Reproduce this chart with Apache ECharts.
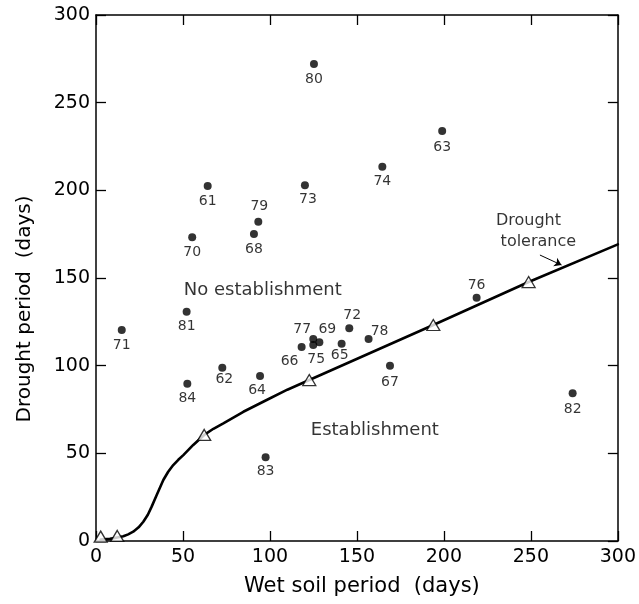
<!DOCTYPE html>
<html>
<head>
<meta charset="utf-8">
<script src="https://cdn.jsdelivr.net/npm/echarts@6/dist/echarts.min.js"></script>
<style>
  html, body { margin: 0; padding: 0; background: #fff; }
  #chart { width: 639px; height: 604px; }
</style>
</head>
<body>
<div id="chart"></div>
<script>
// Sites (year of observation) - wet soil period vs drought period, days
const siteYears = [80, 61, 73, 63, 74, 79, 68, 70, 81, 71, 84, 62, 64, 66, 77, 75, 69, 65, 72, 78, 76, 67, 82, 83];
const wetSoilDays = [125.3, 64.2, 120.1, 199, 164.6, 93.3, 90.8, 55.3, 52.1, 14.8, 52.5, 72.6, 94.3, 118.2, 124.9, 124.9, 128.4, 141.2, 145.6, 156.7, 218.8, 169, 274, 97.5];
const droughtDays = [272, 202.5, 202.9, 233.8, 213.5, 182.1, 175.1, 173.2, 130.8, 120.3, 89.7, 98.8, 94.1, 110.6, 115.2, 111.8, 113.3, 112.5, 121.3, 115.2, 138.8, 100, 84.2, 47.7];

// Drought tolerance curve
const curveX = [2.7, 8, 12.2, 15.7, 18.5, 21.4, 24.5, 27.2, 29.8, 32, 34.9, 38.7, 41.5, 44.4, 47.3, 50.2, 55.9, 62.2, 67.5, 73.2, 84.7, 98.1, 110, 122.6, 193.9, 248.7, 300];
const curveY = [0.8, 1.2, 2, 2.7, 3.8, 5.3, 7.8, 11, 15, 19.6, 26.2, 34.8, 39.5, 43.3, 46.3, 49, 54.8, 60.5, 64, 67.1, 73.7, 80.4, 86.3, 91.8, 123.2, 147.7, 169.2];

// Measured points on the curve (triangles)
const triX = [2.7, 12.2, 62.2, 122.6, 193.9, 248.7];
const triY = [2.5, 2.9, 60.5, 91.8, 123.2, 147.7];

// label placement around dots (px), default is below
const labelOffsets = {
    79: [1, -15], 77: [-11, -10], 69: [8, -13], 72: [3, -13], 76: [0, -12], 78: [11, -8],
    66: [-12, 14], 75: [3, 14], 65: [-2, 12], 62: [2, 12], 64: [-3, 14], 67: [0, 17],
    82: [0, 16], 83: [0, 14], 73: [3, 14], 63: [0, 16]
};

const FONT = 'DejaVu Sans';

let chart = echarts.init(document.getElementById('chart'));

let points = siteYears.map((yr, i) => ({
    value: [wetSoilDays[i], droughtDays[i], yr],
    label: { offset: labelOffsets[yr] || [0, 15] }
}));

let curve = curveX.map((x, i) => [x, curveY[i]]);
let triangles = triX.map((x, i) => [x, triY[i]]);

const tickStyle = { show: true, inside: true, length: 10, lineStyle: { color: '#000', width: 1.3 } };

function axisBase(pos) {
    return {
        type: 'value', min: 0, max: 300, interval: 50, position: pos,
        axisLine: { show: true, onZero: false, lineStyle: { color: '#000', width: 1.5 } },
        axisTick: tickStyle,
        splitLine: { show: false }
    };
}

let option = {
    backgroundColor: '#fff',
    animation: false,
    grid: { left: 96, right: 21, top: 15, bottom: 63 },
    xAxis: [
        Object.assign(axisBase('bottom'), {
            name: 'Wet soil period  (days)',
            nameLocation: 'middle', nameGap: 35,
            nameTextStyle: { fontFamily: FONT, fontSize: 21, color: '#000', padding: [0, 0, 0, 10] },
            axisLabel: { margin: 7, fontFamily: FONT, fontSize: 19, color: '#000' }
        }),
        Object.assign(axisBase('top'), { axisLabel: { show: false } })
    ],
    yAxis: [
        Object.assign(axisBase('left'), {
            name: 'Drought period  (days)',
            nameLocation: 'middle', nameGap: 61,
            nameTextStyle: { fontFamily: FONT, fontSize: 20, color: '#000', padding: [0, 62, 0, 0] },
            axisLabel: { margin: 6, fontFamily: FONT, fontSize: 19, color: '#000' }
        }),
        Object.assign(axisBase('right'), { axisLabel: { show: false } })
    ],
    series: [
        {
            name: 'Drought tolerance',
            type: 'line',
            data: curve,
            smooth: false,
            showSymbol: false,
            lineStyle: { color: '#000', width: 2.6, join: 'round', cap: 'round' },
            z: 2
        },
        {
            name: 'Tolerance measured',
            type: 'scatter',
            data: triangles,
            symbol: 'triangle',
            symbolSize: [13, 11],
            itemStyle: { color: '#fff', borderColor: '#000', borderWidth: 1.3 },
            z: 3
        },
        {
            name: 'Sites',
            type: 'scatter',
            data: points,
            symbolSize: 8,
            itemStyle: { color: '#000' },
            label: {
                show: true,
                position: 'inside',
                formatter: p => p.value[2],
                fontFamily: FONT, fontSize: 14, color: '#000'
            },
            z: 4
        },
        {
            name: 'Annotations',
            type: 'scatter',
            symbolSize: 0,
            silent: true,
            data: [
                { value: [95.9, 143.2], name: 'No establishment', label: { fontSize: 18 } },
                { value: [160.3, 63.3], name: 'Establishment', label: { fontSize: 18 } },
                { value: [248.6, 182.7], name: 'Drought' },
                { value: [254.3, 170.7], name: 'tolerance' }
            ],
            label: {
                show: true, position: 'inside',
                formatter: p => p.name,
                fontFamily: FONT, fontSize: 16, color: '#000'
            },
            markLine: {
                silent: true,
                symbol: ['none', 'arrow'],
                symbolSize: 7,
                label: { show: false },
                lineStyle: { color: '#000', width: 1, type: 'solid' },
                data: [[{ coord: [255.2, 163.1] }, { coord: [267.6, 157.4] }]]
            }
        }
    ]
};

chart.setOption(option, true);
window.onresize = function() {
    chart.resize();
};
</script>
</body>
</html>
